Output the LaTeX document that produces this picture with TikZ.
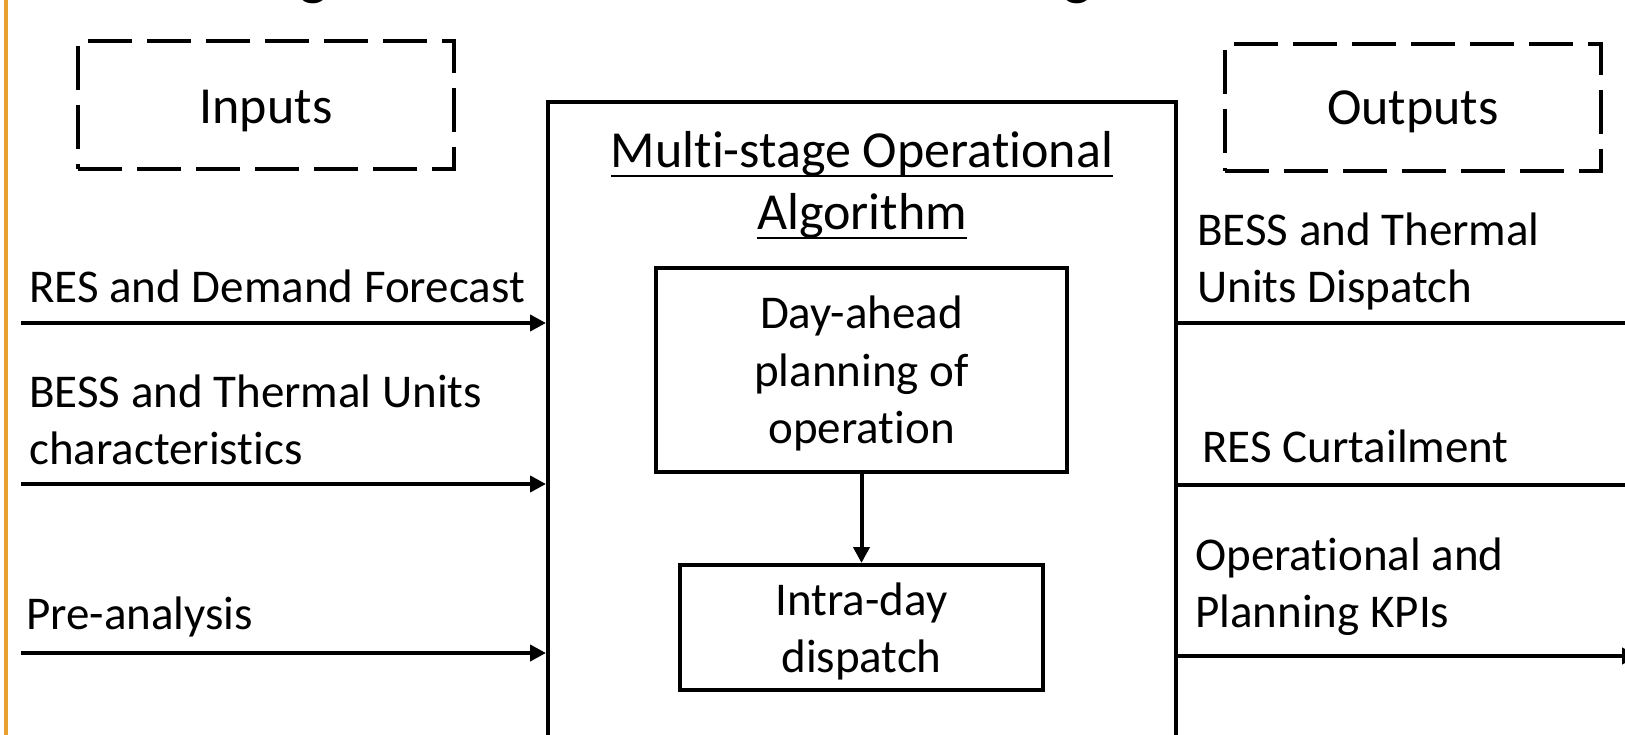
\documentclass[tikz,border=0pt]{standalone}
\usepackage{fontspec}
\setmainfont{Carlito}[Ligatures=NoCommon]
\usetikzlibrary{arrows.meta,calc}
\definecolor{barorange}{RGB}{232,160,48}
\begin{document}
\begin{tikzpicture}[x=1pt,y=-1pt,
  txt/.style={font=\fontsize{47pt}{57.5pt}\selectfont, inner sep=0pt},
  big/.style={font=\fontsize{52pt}{62pt}\selectfont, inner sep=0pt},
  solidbox/.style={draw, line width=4pt, inner sep=0pt},
  boxtext/.style={align=center, inner sep=0pt, font=\fontsize{47pt}{57.5pt}\selectfont},
  dashbox/.style={draw, line width=4.5pt, dash pattern=on 44pt off 15pt, inner sep=0pt},
  flow/.style={line width=4pt, -{Triangle[length=16pt,width=16pt]}},
  outline/.style={line width=4.5pt, -{Triangle[length=16pt,width=16pt]}},
  uline/.style={line width=2.8pt}
]
\useasboundingbox (0,0) rectangle (1625,735);
\fill[white] (0,0) rectangle (1625,735);
% orange side bar
\draw[barorange, line width=4.5pt] (6,-5) -- (6,740);

% cut-off title descenders
\node[font=\fontsize{60pt}{60pt}\selectfont, anchor=base, inner sep=0pt] (ga) at (314,-6) {g};
\node[font=\fontsize{60pt}{60pt}\selectfont, anchor=base, inner sep=0pt] (gb) at (1078,-6) {g};

% dashed headers
\node[dashbox, minimum width=376pt, minimum height=128pt] (inbox) at (266,105) {};
\node[big, anchor=base] (inlbl) at (266,124) {Inputs};
\node[dashbox, minimum width=376pt, minimum height=127pt] (outbox) at (1413,107.5) {};
\node[big, anchor=base] (outlbl) at (1413,125) {Outputs};

% main algorithm box
\node[draw, line width=4pt, minimum width=628pt, minimum height=660pt, inner sep=0pt] (alg) at (862,432) {};
\node[big, anchor=base] (t1) at (862,168) {Multi-stage Operational};
\node[big, anchor=base] (t2) at (862,230) {Algorithm};
\draw[uline] ($(t1.base west)+(0,8)$) -- ($(t1.base east)+(0,8)$);
\draw[uline] ($(t2.base west)+(0,8)$) -- ($(t2.base east)+(0,8)$);

% inner boxes
\node[solidbox, minimum width=411pt, minimum height=204pt] (dayahead) at (861.5,370) {};
\node[boxtext] (datext) at (861.5,373.5) {Day-ahead\\planning of\\operation};
\node[solidbox, minimum width=363pt, minimum height=125pt] (intraday) at (861.5,627.5) {};
\node[boxtext] (idtext) at (861.5,631.5) {Intra-day\\dispatch};
\draw[flow] (dayahead.south) -- (intraday.north);

% inputs
\coordinate (in1) at (21,323);
\coordinate (in2) at (21,484);
\coordinate (in3) at (21,653);
\draw[flow] (in1) -- (alg.west |- in1);
\draw[flow] (in2) -- (alg.west |- in2);
\draw[flow] (in3) -- (alg.west |- in3);
\node[txt, anchor=base west] (l1) at (29,302) {RES and Demand Forecast};
\node[txt, anchor=base west] (l2a) at (29,407) {BESS and Thermal Units};
\node[txt, anchor=base west] (l2b) at (29,464) {characteristics};
\node[txt, anchor=base west] (l3) at (26,629) {Pre-analysis};

% outputs
\coordinate (out1) at (1665,323);
\coordinate (out2) at (1665,485);
\coordinate (out3) at (1638,656);
\draw[outline] (alg.east |- out1) -- (out1);
\draw[outline] (alg.east |- out2) -- (out2);
\draw[outline] (alg.east |- out3) -- (out3);
\node[txt, anchor=base west] (r1a) at (1197,246) {BESS and Thermal};
\node[txt, anchor=base west] (r1b) at (1197,303) {Units Dispatch};
\node[txt, anchor=base west] (r2) at (1202,462) {RES Curtailment};
\node[txt, anchor=base west] (r3a) at (1195,570) {Operational and};
\node[txt, anchor=base west] (r3b) at (1195,627) {Planning KPIs};
\end{tikzpicture}
\end{document}
